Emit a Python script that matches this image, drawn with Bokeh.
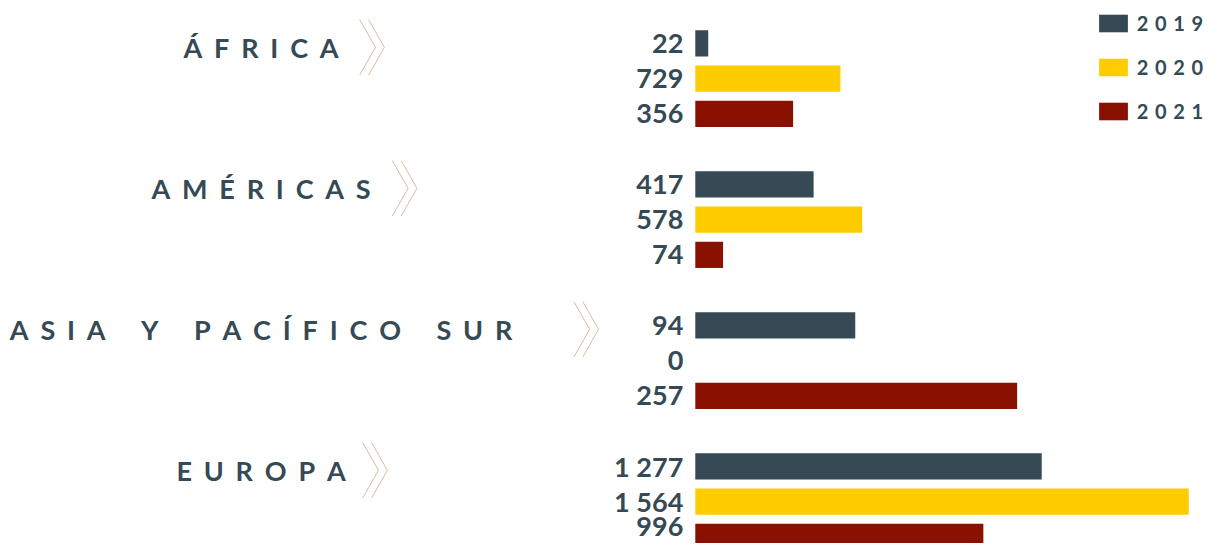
from bokeh.plotting import figure
from bokeh.models import ColumnDataSource, Range1d, Legend, LegendItem
from bokeh.core.properties import value
from bokeh.embed import file_html
from bokeh.resources import INLINE

# ---------------- data ----------------
regions = ["ÁFRICA", "AMÉRICAS", "ASIA Y PACÍFICO SUR", "EUROPA"]
years = ["2019", "2020", "2021"]
values_2019 = [22, 417, 94, 1277]
values_2020 = [729, 578, 0, 1564]
values_2021 = [356, 74, 257, 996]
# bar lengths as drawn in the source infographic (not proportional to the values)
bar_len_2019 = [41, 375, 507, 1098]
bar_len_2020 = [460, 529, 0, 1564]
bar_len_2021 = [310, 88, 1020, 913]

# ---------------- layout ----------------
W, H = 1207, 543
SX, SY = W / 1223, H / 559          # reference px -> figure px
X0 = 704 * SX                        # px where bars start
SCALE = 500 * SX / 1564              # px per length unit
Y_TOP = 44.1 * SY                    # px of first slot centre
STEP = 36.29 * SY                    # px per slot
BAR_H = 26.2 / STEP
SLATE = "#354A54"
YELLOW = "#FFCC00"
RED = "#8A1000"
TAN = "#D9BC9C"
FONT = "Lato"
colors = [SLATE, YELLOW, RED]
values = [values_2019, values_2020, values_2021]
lengths = [bar_len_2019, bar_len_2020, bar_len_2021]
CHEVRON_LEFT_PX = [364 * SX, 397 * SX, 581 * SX, 367 * SX]
LABEL_CENTER_PX = 264 * SX
SEP = "\u2005\u2009\u200a"


def px_x(fx):
    return (fx - X0) / SCALE


def px_y(fy):
    return (fy - Y_TOP) / STEP


def spaced(s, sep=SEP):
    return sep.join(sep if c == " " else c for c in s)


p = figure(width=W, height=H, output_backend="svg", toolbar_location=None,
           x_range=Range1d(px_x(0), px_x(W)),
           y_range=Range1d(px_y(H), px_y(0)),
           min_border=0)
p.axis.visible = False
p.grid.visible = False
p.outline_line_color = None
p.background_fill_color = "white"
p.border_fill_color = "white"

n = len(regions)
legend_items = []
for yi, yr in enumerate(years):
    ks = [gi * 4 + yi for gi in range(n)]
    # the very last label sits a little higher so it stays inside the frame
    dy = [-10 if (gi == n - 1 and yi == len(years) - 1) else 0 for gi in range(n)]
    src = ColumnDataSource(dict(
        y=ks,
        right=lengths[yi],
        dy=dy,
        label=[f"{v:,}".replace(",", " ") for v in values[yi]],
    ))
    r = p.hbar(y="y", left=0, right="right", height=BAR_H, source=src,
               fill_color=colors[yi], line_color=None)
    legend_items.append(LegendItem(label="\u2004".join(yr), renderers=[r]))
    p.text(x=0, y="y", text="label", source=src, x_offset=-12, y_offset="dy",
           text_align="right", text_baseline="middle",
           text_font=value(FONT), text_font_style="bold",
           text_font_size="27px", text_color=SLATE)

# region labels
ky = [gi * 4 for gi in range(n)]
rsrc = ColumnDataSource(dict(y=ky, text=[spaced(r) for r in regions]))
p.text(x=0, y="y", text="text", source=rsrc, x_offset=LABEL_CENTER_PX - X0,
       y_offset=4, text_align="center", text_baseline="middle",
       text_font=value(FONT), text_font_style="bold",
       text_font_size="27px", text_color=SLATE)

# chevrons (double thin ">")
xs, ys = [], []
half = 28.5 * SY
for gi, left in enumerate(CHEVRON_LEFT_PX):
    cy = Y_TOP + ky[gi] * STEP + 4
    for off in (0, 9 * SX):
        xs.append([px_x(left + off), px_x(left + off + 16 * SX), px_x(left + off)])
        ys.append([px_y(cy - half), px_y(cy), px_y(cy + half)])
p.multi_line(xs=xs, ys=ys, line_color=TAN, line_width=1)

# legend (Bokeh insets area glyphs by 10% of the glyph box)
ITEM_H = 24
GW, GH = 36, 22
legend = Legend(items=legend_items,
                location=(1113 * SX - GW * 0.1,
                          H - (24 * SY - ITEM_H / 2) - (3 * ITEM_H + 2 * 20)),
                orientation="vertical", glyph_width=GW, glyph_height=GH,
                label_height=18, label_standoff=6, spacing=20, padding=0,
                margin=0, border_line_color=None, background_fill_alpha=0,
                label_text_font=FONT, label_text_font_style="bold",
                label_text_font_size="20px", label_text_color=SLATE)
p.add_layout(legend)

open("out.html", "w").write(file_html(p, INLINE))
